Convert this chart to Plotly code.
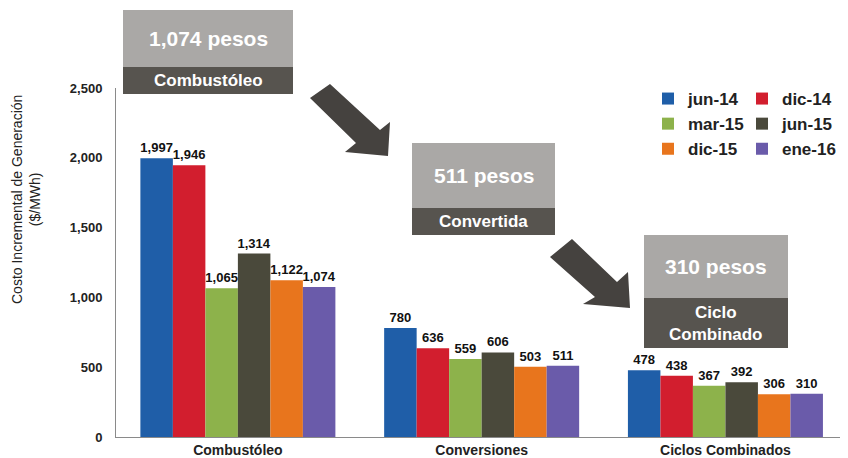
import plotly.graph_objects as go

categories = ["Combustóleo", "Conversiones", "Ciclos Combinados"]
series_names = ["jun-14", "dic-14", "mar-15", "jun-15", "dic-15", "ene-16"]
jun14 = [1997, 780, 478]
dic14 = [1946, 636, 438]
mar15 = [1065, 559, 367]
jun15 = [1314, 606, 392]
dic15 = [1122, 503, 306]
ene16 = [1074, 511, 310]
y_ticks = [0, 500, 1000, 1500, 2000, 2500]

series_values = [jun14, dic14, mar15, jun15, dic15, ene16]
colors = ["#1F5EA8", "#D21E2E", "#8DB24B", "#4A493B", "#E8751D", "#6A5BAA"]
legend_ref = ["legend", "legend2", "legend", "legend2", "legend", "legend2"]

FONT = "Liberation Sans, Arial, sans-serif"
W, H = 848, 458
# plot area as measured in the reference picture (pixels)
L, T, PW, PH = 116, 88, 724, 349
# the page body adds an 8px offset, so the figure margins are shifted by it
OFF = 8


def px(x):
    return (x - L) / PW


def py(y):
    return (T + PH - y) / PH


fig = go.Figure()
for name, vals, col, lg in zip(series_names, series_values, colors, legend_ref):
    fig.add_trace(go.Bar(
        x=categories, y=vals, name=name, marker_color=col, marker_line_width=0,
        text=vals, texttemplate="%{y:,}", textposition="outside",
        textfont=dict(family=FONT, size=13, color="#111", weight="bold"),
        constraintext="none", cliponaxis=False,
        legend=lg, legendgroup=name,
    ))

shapes = []
annotations = []


def box(x0, x1, y0, ym, y1, top_text, bot_text, top_size, bot_size):
    shapes.append(dict(type="rect", xref="paper", yref="paper",
                       x0=px(x0), x1=px(x1), y0=py(ym), y1=py(y0),
                       fillcolor="#AAA8A6", line_width=0, layer="above"))
    shapes.append(dict(type="rect", xref="paper", yref="paper",
                       x0=px(x0), x1=px(x1), y0=py(y1), y1=py(ym),
                       fillcolor="#57544F", line_width=0, layer="above"))
    cx = (x0 + x1) / 2
    annotations.append(dict(x=px(cx), y=py((y0 + ym) / 2), xref="paper", yref="paper",
                            text="<b>%s</b>" % top_text, showarrow=False,
                            font=dict(family=FONT, size=top_size, color="white"),
                            xanchor="center", yanchor="middle"))
    annotations.append(dict(x=px(cx), y=py((ym + y1) / 2), xref="paper", yref="paper",
                            text="<b>%s</b>" % bot_text, showarrow=False,
                            font=dict(family=FONT, size=bot_size, color="white"),
                            xanchor="center", yanchor="middle"))


box(123, 293, 10, 67, 94, "1,074 pesos", "Combustóleo", 21, 17)
box(412, 555, 143, 208, 235, "511 pesos", "Convertida", 21, 17)
box(644, 788, 235, 298, 348, "310 pesos", "Ciclo<br>Combinado", 21, 17)


def arrow(pts):
    d = "M " + " L ".join("%f,%f" % (px(x), py(y)) for x, y in pts) + " Z"
    shapes.append(dict(type="path", xref="paper", yref="paper", path=d,
                       fillcolor="#45423F", line_width=0, layer="above"))


arrow([(330, 84), (380, 130), (390, 122), (388, 156), (345, 152), (356, 143), (310, 98)])
arrow([(572, 239), (617, 282), (628, 272), (630, 308), (583, 304), (595, 297), (550, 257)])

annotations.append(dict(x=px(26), y=py(200), xref="paper", yref="paper",
                        text="Costo Incremental de Generación<br>($/MWh)",
                        showarrow=False, textangle=-90,
                        font=dict(family=FONT, size=14, color="#222"),
                        xanchor="center", yanchor="middle"))

legend_common = dict(orientation="v", xanchor="left", yanchor="top",
                     font=dict(family=FONT, size=17, color="#222", weight="bold"),
                     bgcolor="rgba(0,0,0,0)", tracegroupgap=0, itemwidth=30)

fig.update_layout(
    width=W, height=H,
    margin=dict(l=L - OFF, r=W - (L - OFF) - PW, t=T - OFF, b=H - (T - OFF) - PH,
                autoexpand=False),
    paper_bgcolor="white", plot_bgcolor="white",
    barmode="group", bargap=0.2, bargroupgap=0,
    showlegend=True,
    legend=dict(x=px(648), y=py(81), **legend_common),
    legend2=dict(x=px(742), y=py(81), **legend_common),
    xaxis=dict(range=[-0.5, 2.47], showline=True, linecolor="#8A8A8A", linewidth=1,
               showgrid=False, ticks="", automargin=False,
               tickfont=dict(family=FONT, size=14, color="#222", weight="bold")),
    yaxis=dict(range=[0, 2500], tickvals=y_ticks, tickformat=",",
               showline=True, linecolor="#8A8A8A", linewidth=1, automargin=False,
               showgrid=False, zeroline=False, ticks="", ticklabelstandoff=10,
               tickfont=dict(family=FONT, size=13, color="#222", weight="bold")),
    shapes=shapes, annotations=annotations,
    font=dict(family=FONT),
)

fig.write_html("out.html")
